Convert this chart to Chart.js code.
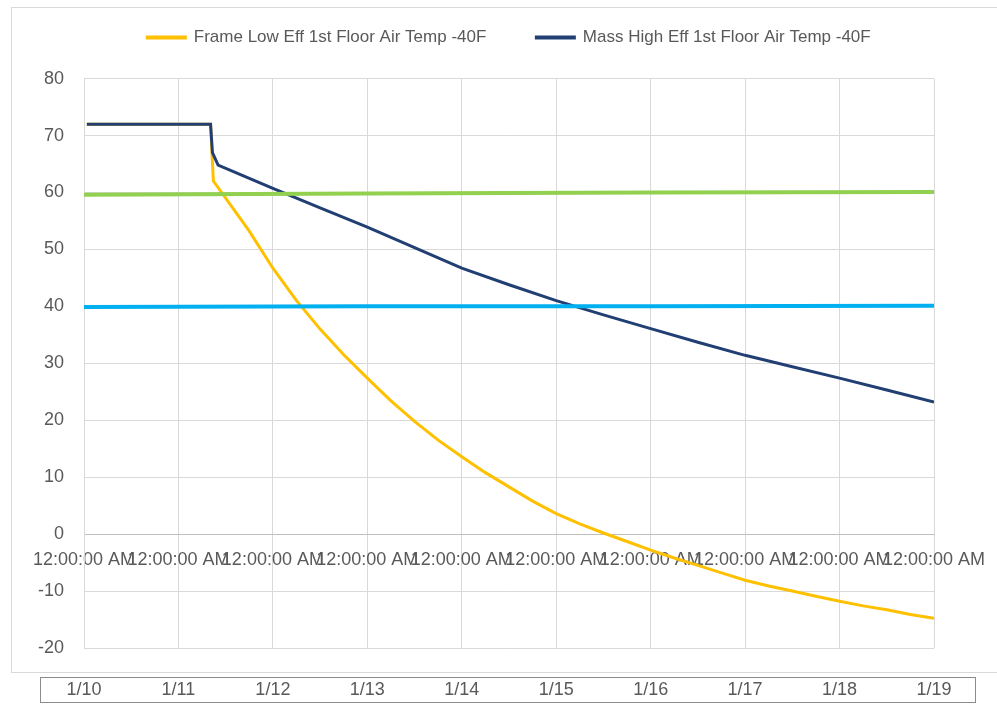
<!DOCTYPE html>
<html>
<head>
<meta charset="utf-8">
<script src="https://cdn.jsdelivr.net/npm/chart.js@4"></script>
<style>
  body { margin: 0; background: #fff; }
  #chart { display: block; }
</style>
</head>
<body>
<canvas id="chart" width="997" height="704"></canvas>
<script>
// Values; x is days since 1/10 12:00 AM
const dateLabels = ['1/10', '1/11', '1/12', '1/13', '1/14', '1/15', '1/16', '1/17', '1/18', '1/19'];
const timeLabel = '12:00:00 AM';

const frameDays = [0.03, 1.34, 1.37, 1.5, 1.75, 2, 2.25, 2.5, 2.75, 3, 3.25, 3.5, 3.75, 4, 4.25, 4.5, 4.75, 5,
    5.25, 5.5, 5.75, 6, 6.25, 6.5, 6.75, 7, 7.25, 7.5, 7.75, 8, 8.25, 8.5, 8.75, 9];
const frameTemps = [72, 72, 62, 59.0, 53.2, 46.7, 41.0, 36.0, 31.5, 27.4, 23.4, 19.8, 16.5, 13.6, 10.8, 8.3, 5.8, 3.6,
    1.8, 0.2, -1.3, -2.8, -4.2, -5.5, -6.8, -8.1, -9.1, -10.0, -10.9, -11.8, -12.6, -13.3, -14.1, -14.8];

const massDays = [0.03, 1.34, 1.36, 1.42, 2, 2.5, 3, 3.5, 4, 4.5, 5, 5.5, 6, 6.5, 7, 7.5, 8, 8.5, 9];
const massTemps = [72, 72, 67, 64.8, 60.7, 57.3, 53.9, 50.3, 46.7, 43.8, 41.0, 38.5, 36.1, 33.7, 31.4, 29.4, 27.4, 25.3, 23.2];

const refDays = [0, 3, 6, 9];
const green60 = [59.6, 59.8, 60.0, 60.1];
const blue40 = [39.9, 40.0, 40.0, 40.1];

const yTicks = { min: -20, max: 80, step: 10 };

function toPoints(xs, ys) {
    return xs.map((x, i) => ({ x: x, y: ys[i] }));
}

// keep overflowing tick labels from shrinking the plot area
function fixedHeight(h) {
    return (scale) => {
        scale.height = h;
        scale.paddingLeft = 0;
        scale.paddingRight = 0;
    };
}

Chart.defaults.font.family = "'Liberation Sans', Arial, sans-serif";

// Outer chart border and the boxed date row under the plot
const framePlugin = {
    id: 'frames',
    beforeDraw(chart) {
        const ctx = chart.ctx;
        ctx.save();
        ctx.fillStyle = '#fff';
        ctx.fillRect(0, 0, chart.width, chart.height);
        ctx.strokeStyle = '#d9d9d9';
        ctx.lineWidth = 1;
        ctx.strokeRect(11.5, 7.5, chart.width, 665);
        ctx.strokeStyle = '#8c8c8c';
        ctx.strokeRect(40.5, 677.5, 935, 25);
        ctx.restore();
    }
};

new Chart(document.getElementById('chart'), {
    type: 'line',
    data: {
        datasets: [
            {
                label: 'Frame Low Eff 1st Floor Air Temp -40F',
                data: toPoints(frameDays, frameTemps),
                borderColor: '#FFC000',
                backgroundColor: '#FFC000',
                borderWidth: 3,
                pointRadius: 0,
                tension: 0,
                order: 2
            },
            {
                label: 'Mass High Eff 1st Floor Air Temp -40F',
                data: toPoints(massDays, massTemps),
                borderColor: '#223F74',
                backgroundColor: '#223F74',
                borderWidth: 3,
                pointRadius: 0,
                tension: 0,
                order: 1
            },
            {
                label: '60F',
                data: toPoints(refDays, green60),
                borderColor: '#92D050',
                backgroundColor: '#92D050',
                borderWidth: 4,
                pointRadius: 0,
                order: 0
            },
            {
                label: '40F',
                data: toPoints(refDays, blue40),
                borderColor: '#00B0F0',
                backgroundColor: '#00B0F0',
                borderWidth: 4,
                pointRadius: 0,
                order: 0
            }
        ]
    },
    options: {
        responsive: false,
        animation: false,
        layout: { padding: { top: -21, left: 20, right: 63, bottom: 6 } },
        plugins: {
            legend: {
                position: 'top',
                fullSize: false,
                labels: {
                    padding: 50,
                    boxWidth: 38,
                    boxHeight: 1,
                    color: '#595959',
                    font: { size: 17 },
                    filter: (item) => item.datasetIndex < 2,
                    sort: (a, b) => a.datasetIndex - b.datasetIndex
                }
            },
            subtitle: {
                display: true,
                text: '',
                fullSize: false,
                weight: 500,
                padding: { top: 1, bottom: 0 },
                font: { size: 18 }
            },
            tooltip: { enabled: false }
        },
        scales: {
            x: {
                type: 'linear',
                min: 0,
                max: 9,
                position: { y: 0 },
                afterFit: fixedHeight(0),
                ticks: {
                    stepSize: 1,
                    autoSkip: false,
                    maxRotation: 0,
                    minRotation: 0,
                    padding: 15,
                    color: '#595959',
                    font: { size: 18 },
                    callback: () => timeLabel
                },
                grid: { color: '#d9d9d9', drawTicks: false },
                border: { color: '#bfbfbf' }
            },
            x2: {
                type: 'linear',
                axis: 'x',
                min: 0,
                max: 9,
                position: 'bottom',
                afterFit: fixedHeight(50),
                ticks: {
                    stepSize: 1,
                    autoSkip: false,
                    maxRotation: 0,
                    minRotation: 0,
                    padding: 31,
                    color: '#595959',
                    font: { size: 18 },
                    callback: (value) => dateLabels[value]
                },
                grid: { display: false, drawTicks: false },
                border: { display: false }
            },
            y: {
                min: yTicks.min,
                max: yTicks.max,
                afterFit: (scale) => { scale.width = 64; },
                ticks: {
                    stepSize: yTicks.step,
                    padding: 20,
                    color: '#595959',
                    font: { size: 18 }
                },
                grid: { color: '#d9d9d9', drawTicks: false },
                border: { color: '#d9d9d9' }
            }
        }
    },
    plugins: [framePlugin]
});
</script>
</body>
</html>
